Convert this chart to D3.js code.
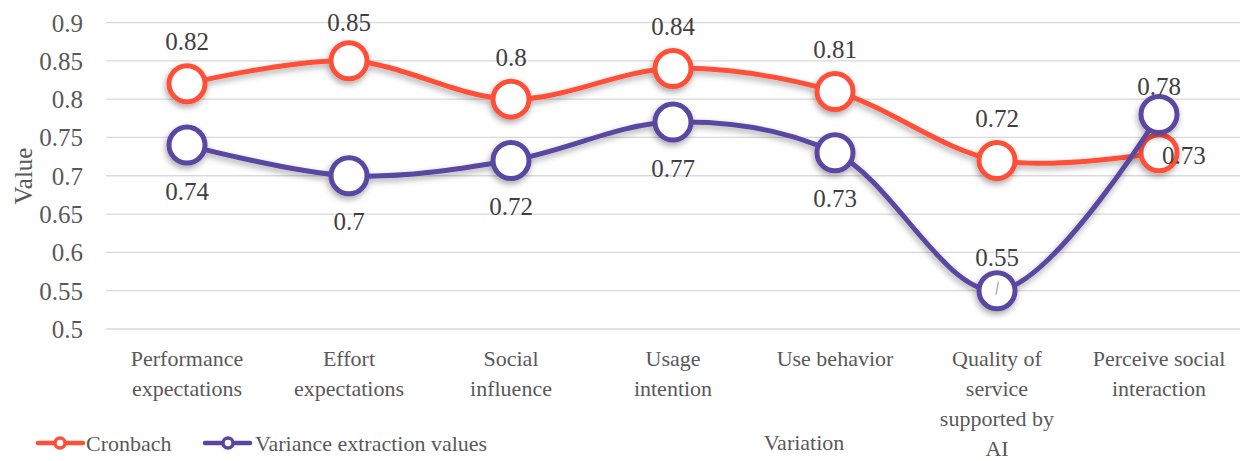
<!DOCTYPE html>
<html><head><meta charset="utf-8">
<script src="https://cdn.jsdelivr.net/npm/d3@7"></script>
<style>body{margin:0;background:#fff}svg{display:block}</style>
</head><body><svg id="c" width="1247" height="461"></svg>
<script>
const categories = [["Performance","expectations"],["Effort","expectations"],["Social","influence"],["Usage","intention"],["Use behavior"],["Quality of","service","supported by","AI"],["Perceive social","interaction"]];
const cronbach = [0.82, 0.85, 0.8, 0.84, 0.81, 0.72, 0.73];
const variance = [0.74, 0.7, 0.72, 0.77, 0.73, 0.55, 0.78];
const yTicks = [0.5, 0.55, 0.6, 0.65, 0.7, 0.75, 0.8, 0.85, 0.9];
const seriesNames = ["Cronbach", "Variance extraction values"];
const xTitle = "Variation";
const yTitle = "Value";
const cronbachLabelPos = ["above","above","above","above","above","above","right"];
const varianceLabelPos = ["below","below","below","below","below","above2","above3"];

const FONT = "'Liberation Serif'";
const svg = d3.select("#c");
const x0=106, x1=1240, yTop=22.5, yBot=329;
const x = d3.scaleBand().domain(d3.range(categories.length)).range([x0,x1]);
const cx = i => x(i) + x.bandwidth()/2;
const y = d3.scaleLinear().domain([0.5,0.9]).range([yBot,yTop]);

function txt(sel, size, color){ return sel.style("font-family",FONT).style("font-size",size+"px").style("fill",color||"#595959"); }

const defs = svg.append("defs");
const f = defs.append("filter").attr("id","sh").attr("x","-20%").attr("y","-20%").attr("width","140%").attr("height","160%");
f.append("feDropShadow").attr("dx",-1).attr("dy",3).attr("stdDeviation",3).attr("flood-color","#000").attr("flood-opacity",0.35);

// grid
svg.append("g").selectAll("line").data(yTicks).join("line")
  .attr("x1",x0).attr("x2",x1).attr("y1",d=>y(d)).attr("y2",d=>y(d))
  .attr("stroke","#d9d9d9").attr("stroke-width",1.3);

// y axis labels
const yAxis = d3.axisLeft(y).tickValues(yTicks).tickFormat(d=>String(+d.toFixed(2))).tickSize(0).tickPadding(0);
const ya = svg.append("g").attr("transform",`translate(83,0)`).call(yAxis);
ya.select(".domain").remove();
txt(ya.selectAll("text"),25).attr("dy","0.34em");

txt(svg.append("text").attr("transform","translate(32,176) rotate(-90)").attr("text-anchor","middle"),25).text(yTitle);

// x labels
const xl = txt(svg.append("g").selectAll("text").data(categories).join("text")
  .attr("x",(d,i)=>cx(i)).attr("y",366).attr("text-anchor","middle"),22);
xl.each(function(d){
  const t=d3.select(this);
  d.forEach((s,k)=>t.append("tspan").attr("x",t.attr("x")).attr("dy",k?30:0).text(s));
});

txt(svg.append("text").attr("x",804).attr("y",450).attr("text-anchor","middle"),22).text(xTitle);

const line = d3.line().x((d,i)=>cx(i)).y(d=>y(d)).curve(d3.curveCatmullRom.alpha(0.5));
const colors = ["#FF4F38","#5A46A2"];
const series = [cronbach, variance];
const positions = [cronbachLabelPos, varianceLabelPos];

series.forEach((vals,s)=>{
  const g = svg.append("g").attr("filter","url(#sh)");
  g.append("path").datum(vals).attr("d",line).attr("fill","none").attr("stroke",colors[s]).attr("stroke-width",5).attr("stroke-linecap","round");
  g.selectAll("circle").data(vals).join("circle").attr("cx",(d,i)=>cx(i)).attr("cy",d=>y(d)).attr("r",18)
    .attr("fill","#fff").attr("stroke",colors[s]).attr("stroke-width",5);
});

// leader line for 0.55
svg.append("line").attr("x1",cx(5)+1.5).attr("y1",y(variance[5])-9).attr("x2",cx(5)-1).attr("y2",y(variance[5])+4).attr("stroke","#a6a6a6").attr("stroke-width",1.3);

// labels
series.forEach((vals,s)=>{
  txt(svg.append("g").selectAll("text").data(vals).join("text"),25,"#404040")
    .attr("dy","0.34em")
    .attr("x",(d,i)=>positions[s][i]==="right"? cx(i)+3 : cx(i))
    .attr("text-anchor",(d,i)=>positions[s][i]==="right"?"start":"middle")
    .attr("y",(d,i)=>{const p=positions[s][i]; const py=y(d);
      const v = p==="above"? py-42 : p==="below"? py+46 : p==="above2"? py-33 : p==="above3"? py-28 : py+3;
      return Math.max(v,22);})
    .text(d=>String(d));
});

// legend
const lg = svg.append("g");
[[38,83,60,86],[205,250,228,255]].forEach((p,s)=>{
  lg.append("line").attr("x1",p[0]).attr("x2",p[1]).attr("y1",443).attr("y2",443).attr("stroke",colors[s]).attr("stroke-width",4.5).attr("stroke-linecap","round");
  lg.append("circle").attr("cx",p[2]).attr("cy",443).attr("r",5).attr("fill","#fff").attr("stroke",colors[s]).attr("stroke-width",3.5);
  txt(lg.append("text").attr("x",p[3]).attr("y",443).attr("dy","0.35em"),22).text(seriesNames[s]);
});
</script></body></html>
